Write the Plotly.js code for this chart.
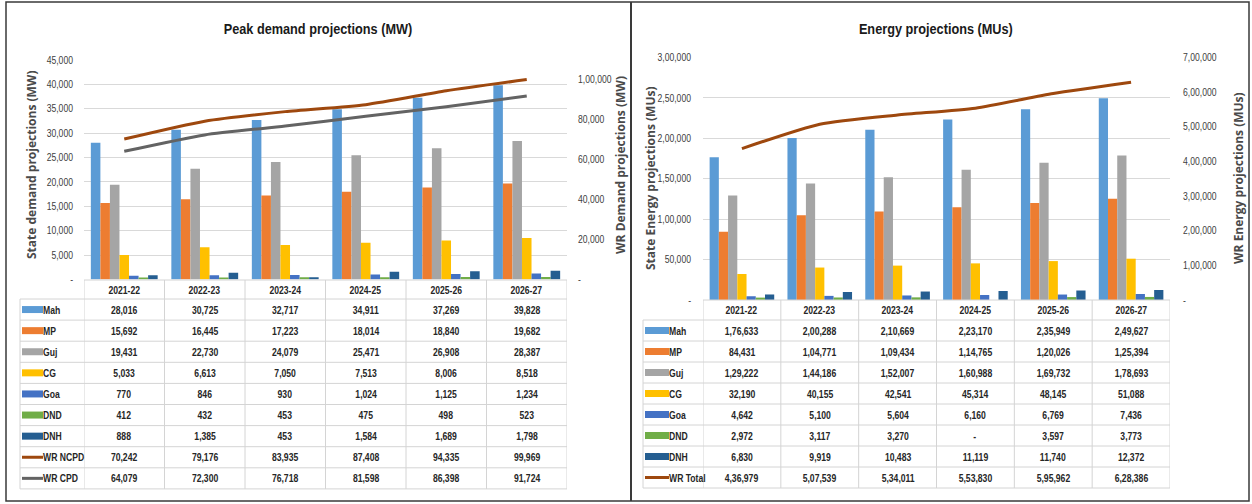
<!DOCTYPE html>
<html>
<head>
<meta charset="utf-8">
<script src="https://cdn.plot.ly/plotly-3.0.1.min.js"></script>
<style>html,body{margin:0;padding:0;background:#fff;}#chart{width:1252px;height:504px;}</style>
</head>
<body>
<div id="chart"></div>
<script>
// ---------- DATA ----------
const years = ['2021-22','2022-23','2023-24','2024-25','2025-26','2026-27'];

const peakMah = [28016,30725,32717,34911,37269,39828];
const peakMP  = [15692,16445,17223,18014,18840,19682];
const peakGuj = [19431,22730,24079,25471,26908,28387];
const peakCG  = [5033,6613,7050,7513,8006,8518];
const peakGoa = [770,846,930,1024,1125,1234];
const peakDND = [412,432,453,475,498,523];
const peakDNH = [888,1385,453,1584,1689,1798];
const peakNCPD = [70242,79176,83935,87408,94335,99969];
const peakCPD  = [64079,72300,76718,81598,86398,91724];

const energyMah = [176633,200288,210669,223170,235949,249627];
const energyMP  = [84431,104771,109434,114765,120026,125394];
const energyGuj = [129222,144186,152007,160988,169732,178693];
const energyCG  = [32190,40155,42541,45314,48145,51088];
const energyGoa = [4642,5100,5604,6160,6769,7436];
const energyDND = [2972,3117,3270,null,3597,3773];
const energyDNH = [6830,9919,10483,11119,11740,12372];
const energyWR  = [436979,507539,534011,553830,595962,628386];

const peakLeftTicks   = [0,5000,10000,15000,20000,25000,30000,35000,40000,45000];
const peakRightTicks  = [0,20000,40000,60000,80000,100000];
const energyLeftTicks = [0,50000,100000,150000,200000,250000,300000];
const energyRightTicks= [0,100000,200000,300000,400000,500000,600000,700000];

// ---------- STYLE ----------
const W = 1252, H = 504;
const px = v => v / W;
const py = v => 1 - v / H;
const NARROW = "'Liberation Sans', Arial, sans-serif";
const WIDE = "'Open Sans', 'DejaVu Sans', sans-serif";
const C = {Mah:'#5b9bd5', MP:'#ed7d31', Guj:'#a5a5a5', CG:'#ffc000', Goa:'#4472c4', DND:'#70ad47', DNH:'#255e91', NCPD:'#9e480e', CPD:'#636363'};

function indian(n){
  if (n === null || n === undefined) return '-';
  if (n === 0) return '-';
  const s = String(Math.round(n));
  if (s.length <= 3) return s;
  const last3 = s.slice(-3);
  let rest = s.slice(0, -3);
  const parts = [];
  while (rest.length > 2) { parts.unshift(rest.slice(-2)); rest = rest.slice(0, -2); }
  if (rest.length) parts.unshift(rest);
  return parts.join(',') + ',' + last3;
}

const peakBars = [
  {name:'Mah', y:peakMah, c:C.Mah}, {name:'MP', y:peakMP, c:C.MP}, {name:'Guj', y:peakGuj, c:C.Guj},
  {name:'CG', y:peakCG, c:C.CG}, {name:'Goa', y:peakGoa, c:C.Goa}, {name:'DND', y:peakDND, c:C.DND},
  {name:'DNH', y:peakDNH, c:C.DNH}
];
const peakLines = [{name:'WR NCPD', y:peakNCPD, c:C.NCPD}, {name:'WR CPD', y:peakCPD, c:C.CPD}];
const energyBars = [
  {name:'Mah', y:energyMah, c:C.Mah}, {name:'MP', y:energyMP, c:C.MP}, {name:'Guj', y:energyGuj, c:C.Guj},
  {name:'CG', y:energyCG, c:C.CG}, {name:'Goa', y:energyGoa, c:C.Goa}, {name:'DND', y:energyDND, c:C.DND},
  {name:'DNH', y:energyDNH, c:C.DNH}
];
const energyLines = [{name:'WR Total', y:energyWR, c:C.NCPD}];

const traces = [];
peakBars.forEach(s => traces.push({type:'bar', x:years, y:s.y, name:s.name, marker:{color:s.c}, xaxis:'x', yaxis:'y', showlegend:false}));
peakLines.forEach(s => traces.push({type:'scatter', mode:'lines', x:years, y:s.y, name:s.name, line:{color:s.c, width:3, shape:'spline', smoothing:0.6}, xaxis:'x', yaxis:'y2', showlegend:false}));
energyBars.forEach(s => traces.push({type:'bar', x:years, y:s.y, name:s.name, marker:{color:s.c}, xaxis:'x2', yaxis:'y3', showlegend:false}));
energyLines.forEach(s => traces.push({type:'scatter', mode:'lines', x:years, y:s.y, name:s.name, line:{color:s.c, width:3, shape:'spline', smoothing:0.6}, xaxis:'x2', yaxis:'y4', showlegend:false}));

// ---------- TABLES (built from the data arrays) ----------
const annotations = [];
const shapes = [];
const GRID = '#d4d4d4';
const cellFont = {family:NARROW, size:10.5, color:'#262626', weight:'bold'};

function buildTable(cfg, bars, lines){
  const rows = bars.map(b => ({name:b.name, y:b.y, c:b.c, kind:'bar'}))
    .concat(lines.map(l => ({name:l.name, y:l.y, c:l.c, kind:'line'})));
  const n = years.length;
  const bottom = cfg.headerBottom + rows.length * cfg.rowH;
  years.forEach((yr, i) => annotations.push({xref:cfg.xa, yref:'paper', x:i, y:py((cfg.headerTop+cfg.headerBottom)/2),
    text:yr, showarrow:false, font:cellFont, xanchor:'center', yanchor:'middle'}));
  shapes.push({type:'line', xref:cfg.xa, yref:'paper', x0:-0.5, x1:n-0.5, y0:py(cfg.headerTop), y1:py(cfg.headerTop), line:{color:GRID, width:1}});
  for (let i = 0; i <= n; i++) {
    shapes.push({type:'line', xref:cfg.xa, yref:'paper', x0:i-0.5, x1:i-0.5, y0:py(cfg.headerTop), y1:py(bottom), line:{color:GRID, width:1}});
  }
  shapes.push({type:'line', xref:'paper', yref:'paper', x0:px(cfg.labelLeft), x1:px(cfg.labelLeft), y0:py(cfg.headerBottom), y1:py(bottom), line:{color:GRID, width:1}});
  rows.forEach((r, k) => {
    const top = cfg.headerBottom + k * cfg.rowH;
    const mid = top + cfg.rowH / 2;
    shapes.push({type:'line', xref:'paper', yref:'paper', x0:px(cfg.labelLeft), x1:px(cfg.colRight), y0:py(top), y1:py(top), line:{color:GRID, width:1}});
    if (r.kind === 'bar') {
      shapes.push({type:'rect', xref:'paper', yref:'paper', x0:px(cfg.keyX0), x1:px(cfg.keyX1), y0:py(mid-3.5), y1:py(mid+3.5), fillcolor:r.c, line:{width:0}});
    } else {
      shapes.push({type:'line', xref:'paper', yref:'paper', x0:px(cfg.keyX0), x1:px(cfg.keyX1), y0:py(mid), y1:py(mid), line:{color:r.c, width:3}});
    }
    annotations.push({xref:'paper', yref:'paper', x:px(cfg.keyX1 - 2), y:py(mid), text:r.name, showarrow:false,
      font:cellFont, xanchor:'left', align:'left', yanchor:'middle'});
    r.y.forEach((v, i) => annotations.push({xref:cfg.xa, yref:'paper', x:i, y:py(mid), text:indian(v), showarrow:false,
      font:cellFont, xanchor:'center', yanchor:'middle'}));
  });
  shapes.push({type:'line', xref:'paper', yref:'paper', x0:px(cfg.labelLeft), x1:px(cfg.colRight), y0:py(bottom), y1:py(bottom), line:{color:GRID, width:1}});
}

buildTable({xa:'x', labelLeft:20, colRight:567, headerTop:280, headerBottom:299, rowH:21.1, keyX0:22, keyX1:43}, peakBars, peakLines);
buildTable({xa:'x2', labelLeft:643, colRight:1170, headerTop:300, headerBottom:320, rowH:21, keyX0:645, keyX1:669}, energyBars, energyLines);

// chart titles
const titleFont = {family:NARROW, size:15.5, color:'#1a1a1a', weight:'bold'};
annotations.push({xref:'paper', yref:'paper', x:px(318), y:py(28), text:'Peak demand projections (MW)', showarrow:false, font:titleFont, xanchor:'center', yanchor:'middle'});
annotations.push({xref:'paper', yref:'paper', x:px(936), y:py(28), text:'Energy projections (MUs)', showarrow:false, font:titleFont, xanchor:'center', yanchor:'middle'});

// axis titles (rotated text next to the tick labels)
const axTitleFont = {family:WIDE, size:12, color:'#4a4a4a', weight:'bold'};
[
  {t:'State demand projections (MW)', x:32, y:165},
  {t:'WR Demand projections (MW)', x:621, y:165},
  {t:'State Energy projections (MUs)', x:650, y:178},
  {t:'WR Energy projections (MUs)', x:1238, y:178}
].forEach(a => annotations.push({xref:'paper', yref:'paper', x:px(a.x), y:py(a.y), text:a.t, textangle:-90, showarrow:false,
  font:axTitleFont, xanchor:'center', yanchor:'middle'}));

// panel frames
shapes.push({type:'rect', xref:'paper', yref:'paper', x0:px(6), x1:px(1249), y0:py(2), y1:py(501), line:{color:'#3a3a3a', width:1.5}});
shapes.push({type:'line', xref:'paper', yref:'paper', x0:px(631), x1:px(631), y0:py(2), y1:py(501), line:{color:'#3a3a3a', width:2}});

const tickFont = {family:NARROW, size:10.5, color:'#404040'};

const layout = {
  width: W, height: H,
  margin: {l:0, r:0, t:0, b:0, pad:0},
  paper_bgcolor: '#ffffff', plot_bgcolor: '#ffffff',
  barmode: 'group', bargap: 0.17, bargroupgap: 0,
  showlegend: false,
  font: {family: NARROW},
  xaxis: {domain:[px(84), px(567)], anchor:'y', type:'category', range:[-0.5, 5.5], showticklabels:false, ticks:'', showgrid:false, zeroline:false, showline:false},
  yaxis: {domain:[py(279.5), py(60)], anchor:'x', range:[0,45000], tickvals:peakLeftTicks, ticktext:peakLeftTicks.map(indian),
    tickfont:tickFont, ticks:'', ticklabelstandoff:10, showgrid:true, gridcolor:'#d9d9d9', gridwidth:1, zeroline:false, showline:false},
  yaxis2: {overlaying:'y', anchor:'x', side:'right', range:[0,109750], tickvals:peakRightTicks, ticktext:peakRightTicks.map(indian),
    tickfont:tickFont, ticks:'', ticklabelstandoff:10, showgrid:false, zeroline:false, showline:false},
  xaxis2: {domain:[px(703), px(1170)], anchor:'y3', type:'category', range:[-0.5, 5.5], showticklabels:false, ticks:'', showgrid:false, zeroline:false, showline:false},
  yaxis3: {domain:[py(300), py(57.5)], anchor:'x2', range:[0,300000], tickvals:energyLeftTicks, ticktext:energyLeftTicks.map(indian),
    tickfont:tickFont, ticks:'', ticklabelstandoff:11, showgrid:true, gridcolor:'#d9d9d9', gridwidth:1, zeroline:false, showline:false},
  yaxis4: {overlaying:'y3', anchor:'x2', side:'right', range:[0,700000], tickvals:energyRightTicks, ticktext:energyRightTicks.map(indian),
    tickfont:tickFont, ticks:'', ticklabelstandoff:12, showgrid:false, zeroline:false, showline:false},
  annotations: annotations,
  shapes: shapes
};

// Emulate a narrow (Calibri / Arial Narrow-like) face by compressing glyphs of the narrow-font texts.
function condense(){
  const texts = document.querySelectorAll('#chart svg text');
  texts.forEach(t => {
    const st = (t.getAttribute('style') || '') + ' ' + (t.style ? t.style.fontFamily : '');
    if (st.indexOf('Liberation') === -1) return;
    const len = t.getComputedTextLength();
    if (!len) return;
    t.setAttribute('textLength', (len * 0.82).toFixed(2));
    t.setAttribute('lengthAdjust', 'spacingAndGlyphs');
  });
}

Plotly.newPlot('chart', traces, layout, {displayModeBar:false, staticPlot:true}).then(condense);
</script>
</body>
</html>
